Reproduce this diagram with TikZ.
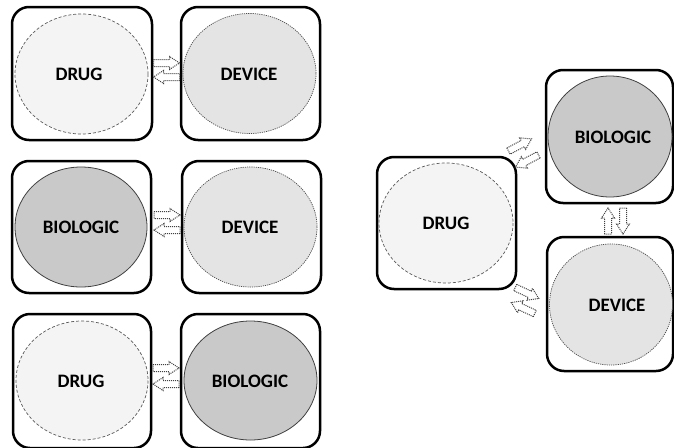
\documentclass[tikz,border=0pt]{standalone}
\usepackage{fontspec}
\setmainfont{Carlito}
\begin{document}
\begin{tikzpicture}[x=1pt,y=-1pt,
  box/.style={draw=black, line width=2.5pt, rounded corners=17pt},
  drugell/.style={fill=drugfill, draw=black!65, line width=0.7pt, dash pattern=on 3pt off 2pt},
  devell/.style={fill=devfill, draw=black!70, line width=0.7pt, dash pattern=on 1.2pt off 1pt},
  bioell/.style={fill=biofill, draw=black!75, line width=0.8pt},
  lbl/.style={font=\bfseries\fontsize{19}{21}\selectfont, inner sep=0pt},
  arrowline/.style={draw=black!75, line width=1pt, dash pattern=on 1pt off 1pt, fill=white},
  barrow/.pic={\path[arrowline] (-13,-3.5) -- (3,-3.5) -- (3,-6.5) -- (13,0) -- (3,6.5) -- (3,3.5) -- (-13,3.5) -- cycle;}
]
\definecolor{drugfill}{HTML}{F4F4F4}
\definecolor{devfill}{HTML}{E4E4E4}
\definecolor{biofill}{HTML}{C9C9C9}
\useasboundingbox (0,0) rectangle (674,447);

% Row 1
\draw[box] (12,7) rectangle (152,140);
\draw[box] (181,7) rectangle (320,140);
\draw[drugell] (81.5,74) ellipse (66.5 and 60);
\draw[devell] (249.5,73.5) ellipse (66.5 and 60);
\node[lbl] (d1) at (79,74) {DRUG};
\node[lbl] (v1) at (249,74) {DEVICE};
\pic at (166.5,63) {barrow};
\pic[rotate=180] at (166.5,77) {barrow};

% Row 2
\draw[box] (12,161) rectangle (151,293);
\draw[box] (182,161) rectangle (321,293);
\draw[bioell] (81,227) ellipse (66 and 60);
\draw[devell] (250.5,227) ellipse (66.5 and 60);
\node[lbl] (b2) at (81,227) {BIOLOGIC};
\node[lbl] (v2) at (250,227) {DEVICE};
\pic at (167,215) {barrow};
\pic[rotate=180] at (167,230) {barrow};

% Row 3
\draw[box] (13,314) rectangle (151,448);
\draw[box] (181,314) rectangle (320,448);
\draw[drugell] (82,380.5) ellipse (66 and 59.5);
\draw[bioell] (250.5,380.5) ellipse (66.5 and 59.5);
\node[lbl] (d3) at (81,381) {DRUG};
\node[lbl] (b3) at (250,381) {BIOLOGIC};
\pic at (166,368) {barrow};
\pic[rotate=180] at (166,384) {barrow};

% Right group
\draw[box] (377,157) rectangle (516,289);
\draw[drugell] (446,223) ellipse (67 and 60);
\node[lbl] (dr) at (446,223) {DRUG};

\begin{scope}
\clip (0,0) rectangle (674,447);
\draw[box] (546,70) rectangle (673,203);
\draw[bioell] (610,136.5) ellipse (62 and 60.5);
\draw[box] (547,237) rectangle (673,371);
\draw[devell] (611,304.5) ellipse (61.5 and 60.5);
\end{scope}
\node[lbl] (br) at (613,137) {BIOLOGIC};
\node[lbl] (vr) at (617,305) {DEVICE};

\pic[rotate=28] at (520,145) {barrow};
\pic[rotate=208] at (527,161) {barrow};
\pic[rotate=-25] at (527,293) {barrow};
\pic[rotate=155] at (523,308) {barrow};
\pic[rotate=90] at (608,221) {barrow};
\pic[rotate=-90] at (623,221) {barrow};
\end{tikzpicture}
\end{document}
